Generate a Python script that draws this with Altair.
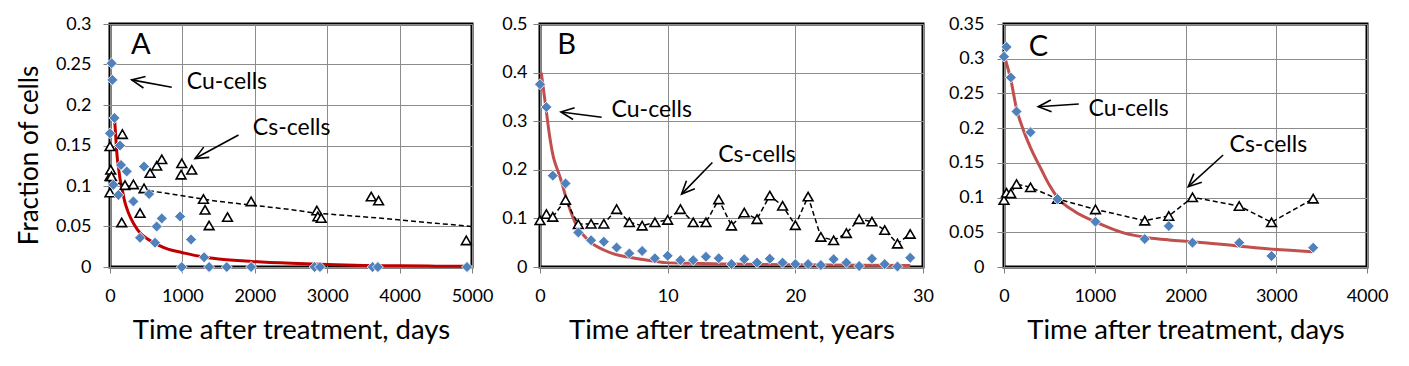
import math
import altair as alt
import pandas as pd

# ---------------- Panel A (days) ----------------
a_cu_t = [0, 23, 33, 47, 61, 116, 138, 152, 231, 323, 415, 470, 540, 622, 645, 715,
          968, 991, 1120, 1300, 1369, 1613, 1949, 2826, 2900, 3627, 3700, 4931]
a_cu_v = [0.165, 0.2515, 0.231, 0.1015, 0.184, 0.089, 0.150, 0.126, 0.118, 0.081, 0.036,
          0.124, 0.090, 0.030, 0.050, 0.060, 0.0624, 0.0, 0.034, 0.012, 0.0, 0.0, 0.0,
          0.0, 0.0, 0.0, 0.0, 0.0]
a_cs_t = [0, 0, 0, 10, 20, 162, 171, 207, 323, 415, 470, 553, 645, 715, 982, 991, 1129,
          1291, 1313, 1369, 1623, 1949, 2857, 2871, 2917, 3608, 3710, 4921]
a_cs_v = [0.149, 0.112, 0.092, 0.120, 0.112, 0.055, 0.164, 0.101, 0.102, 0.0666, 0.097,
          0.116, 0.125, 0.133, 0.114, 0.128, 0.120, 0.084, 0.0706, 0.0513, 0.0617, 0.081,
          0.0698, 0.0624, 0.0604, 0.087, 0.082, 0.0328]
a_fit_t = [61, 80, 100, 116, 140, 162, 200, 254, 330, 415, 530, 669, 800, 991, 1250, 1500,
           1959, 2500, 3000, 3500, 4000, 4500, 5000]
a_fit_v = [0.186, 0.160, 0.135, 0.124, 0.108, 0.099, 0.082, 0.067, 0.053, 0.042, 0.034,
           0.027, 0.022, 0.018, 0.013, 0.010, 0.0069, 0.0045, 0.003, 0.002, 0.0015, 0.001,
           0.0008]
a_trend_t = [0, 207, 553, 1000, 1268, 1500, 2000, 2512, 2834, 3500, 3987, 4500, 5000]
a_trend_v = [0.106, 0.101, 0.094, 0.088, 0.084, 0.081, 0.076, 0.0707, 0.0666, 0.062,
             0.0583, 0.054, 0.050]

# ---------------- Panel B (years) ----------------
b_t = [0, 0.5, 1, 2, 3, 4, 5, 6, 7, 8, 9, 10, 11, 12, 13, 14, 15, 16, 17, 18, 19, 20,
       21, 22, 23, 24, 25, 26, 27, 28, 29]
b_cu_v = [0.376, 0.329, 0.188, 0.172, 0.071, 0.055, 0.052, 0.040, 0.028, 0.033, 0.018,
          0.023, 0.014, 0.014, 0.021, 0.018, 0.006, 0.016, 0.009, 0.017, 0.009, 0.006,
          0.006, 0.004, 0.016, 0.009, 0.002, 0.017, 0.006, 0.001, 0.019]
b_cs_v = [0.096, 0.109, 0.103, 0.138, 0.088, 0.089, 0.089, 0.119, 0.092, 0.085, 0.092,
          0.097, 0.119, 0.092, 0.092, 0.139, 0.085, 0.112, 0.0985, 0.147, 0.126, 0.086,
          0.145, 0.062, 0.055, 0.0696, 0.0985, 0.0936, 0.076, 0.048, 0.068]
b_fit_t = [0.1, 0.45, 0.75, 1.05, 1.3, 1.57, 1.96, 2.48, 2.95, 3.5, 4, 5, 5.9, 7, 7.9, 9,
           9.9, 12, 15, 20, 25, 29]
b_fit_v = [0.40, 0.33, 0.27, 0.226, 0.205, 0.185, 0.150, 0.109, 0.081, 0.063, 0.050, 0.035,
           0.026, 0.020, 0.016, 0.012, 0.009, 0.0075, 0.006, 0.0045, 0.0035, 0.003]

# ---------------- Panel C (days) ----------------
c_t = [0, 28, 75, 138, 292, 590, 1008, 1551, 1816, 2077, 2592, 2948, 3407]
c_cu_v = [0.303, 0.317, 0.273, 0.224, 0.194, 0.098, 0.0653, 0.0403, 0.059, 0.035, 0.035,
          0.0158, 0.0278]
c_cs_v = [0.0965, 0.107, 0.106, 0.1195, 0.1148, 0.098, 0.083, 0.0667, 0.0735, 0.1004,
          0.0879, 0.0644, 0.0984]
c_fit_t = [0, 75, 138, 220, 292, 413, 500, 590, 780, 1008, 1336, 1551, 1816, 2077, 2592,
           2970, 3403]
c_fit_v = [0.305, 0.27, 0.228, 0.195, 0.172, 0.14, 0.118, 0.100, 0.080, 0.065, 0.0485,
           0.043, 0.039, 0.0365, 0.030, 0.0255, 0.022]

# annotations (data coordinates)
labels_a = {"letter": ("A", 424, 0.274),
            "cu": ("Cu-cells", 1060, 0.2285), "cs": ("Cs-cells", 1973, 0.172)}
arrows_a = [(853, 0.222, 300, 0.231), (1775, 0.163, 1175, 0.134)]
labels_b = {"letter": ("B", 2.09, 0.457),
            "cu": ("Cu-cells", 5.61, 0.324), "cs": ("Cs-cells", 13.96, 0.231)}
arrows_b = [(4.83, 0.308, 1.64, 0.319), (13.5, 0.215, 11.09, 0.150)]
labels_c = {"letter": ("C", 380, 0.317),
            "cu": ("Cu-cells", 931, 0.2276), "cs": ("Cs-cells", 2485, 0.1757)}
arrows_c = [(824, 0.2348, 377, 0.2309), (2415, 0.1613, 2030, 0.1157)]

FONT = "Lato"
BLUE = "#4F81BD"
HEIGHT = 243
VPATH = "M-1,-0.45L0,0L-1,0.45"


def panel(width, xdom, xticks, ydom, yticks, xtitle, ytitle, ylabpad,
          cu_t, cu_v, cs_t, cs_v, dash_t, dash_v, fit_t, fit_v, fit_color,
          labels, arrows):
    xs = alt.Scale(domain=xdom, nice=False, zero=False)
    ys = alt.Scale(domain=ydom, nice=False, zero=False)
    yaxis_kw = dict(values=yticks, format="~g", labelPadding=ylabpad, tickSize=7,
                    labelFlush=False)
    if ytitle:
        yaxis = alt.Axis(title=ytitle, titleX=-81, titleY=131, titleBaseline="middle",
                         titleAngle=270, titleFontSize=26, **yaxis_kw)
    else:
        yaxis = alt.Axis(title=None, **yaxis_kw)
    xaxis = alt.Axis(values=xticks, format="d", title=xtitle, tickSize=6,
                     labelPadding=28, labelBaseline="alphabetic", labelFlush=False,
                     titleY=71, titleBaseline="alphabetic", titleFontSize=27.5)

    def X(f):
        return alt.X(f, scale=xs, axis=xaxis)

    def Y(f):
        return alt.Y(f, scale=ys, axis=yaxis)

    fit_df = pd.DataFrame({"t": fit_t, "v": fit_v})
    fit = alt.Chart(fit_df).mark_line(color=fit_color, strokeWidth=3,
                                      interpolate="monotone").encode(
        x=X("t:Q"), y=Y("v:Q"))

    dash_df = pd.DataFrame({"t": dash_t, "v": dash_v})
    dash = alt.Chart(dash_df).mark_line(color="black", strokeWidth=1.5,
                                        strokeDash=[5, 3]).encode(x=X("t:Q"), y=Y("v:Q"))

    cs_df = pd.DataFrame({"t": cs_t, "v": cs_v})
    tri = alt.Chart(cs_df).mark_point(shape="triangle-up", filled=True, fill="white",
                                      stroke="black", strokeWidth=1.6, size=95,
                                      opacity=1).encode(x=X("t:Q"), y=Y("v:Q"))

    cu_df = pd.DataFrame({"t": cu_t, "v": cu_v})
    dia = alt.Chart(cu_df).mark_point(shape="diamond", filled=True, fill=BLUE,
                                      stroke="white", strokeWidth=0.8, size=120,
                                      opacity=1).encode(x=X("t:Q"), y=Y("v:Q"))

    txt_df = pd.DataFrame({"label": [labels["cu"][0], labels["cs"][0]],
                           "t": [labels["cu"][1], labels["cs"][1]],
                           "v": [labels["cu"][2], labels["cs"][2]]})
    txt = alt.Chart(txt_df).mark_text(align="left", baseline="middle", font=FONT,
                                      fontSize=23, color="black").encode(
        x=X("t:Q"), y=Y("v:Q"), text="label:N")

    let_df = pd.DataFrame({"label": [labels["letter"][0]], "t": [labels["letter"][1]],
                           "v": [labels["letter"][2]]})
    let = alt.Chart(let_df).mark_text(align="center", baseline="middle", font=FONT,
                                      fontSize=29, color="black").encode(
        x=X("t:Q"), y=Y("v:Q"), text="label:N")

    xspan = xdom[1] - xdom[0]
    yspan = ydom[1] - ydom[0]
    angs = []
    for (x1, y1, x2, y2) in arrows:
        dx = (x2 - x1) / xspan * width
        dy = -(y2 - y1) / yspan * HEIGHT
        angs.append(math.degrees(math.atan2(dy, dx)) % 360)
    arr_df = pd.DataFrame({"t": [a[0] for a in arrows], "v": [a[1] for a in arrows],
                           "t2": [a[2] for a in arrows], "v2": [a[3] for a in arrows],
                           "ang": angs})
    shaft = alt.Chart(arr_df).mark_rule(color="black", strokeWidth=1.6).encode(
        x=X("t:Q"), x2="t2:Q", y=Y("v:Q"), y2="v2:Q")
    head_df = pd.DataFrame({"t": [a[2] for a in arrows], "v": [a[3] for a in arrows],
                            "ang": angs})
    head = alt.Chart(head_df).mark_point(shape=VPATH, filled=False, color="black",
                                         strokeWidth=1.6, size=676, opacity=1).encode(
        x=X("t:Q"), y=Y("v:Q"), angle=alt.Angle("ang:Q", scale=None))

    return alt.layer(fit, dash, tri, dia, shaft, head, txt, let).properties(
        width=width, height=HEIGHT)


pA = panel(362, [0, 5000], [0, 1000, 2000, 3000, 4000, 5000],
           [0, 0.3], [0, 0.05, 0.1, 0.15, 0.2, 0.25, 0.3],
           "Time after treatment, days", "Fraction of cells", 12,
           a_cu_t, a_cu_v, a_cs_t, a_cs_v, a_trend_t, a_trend_v,
           a_fit_t, a_fit_v, "#C00000", labels_a, arrows_a)
pB = panel(383, [0, 30], [0, 10, 20, 30],
           [0, 0.5], [0, 0.1, 0.2, 0.3, 0.4, 0.5],
           "Time after treatment, years", None, 6,
           b_t, b_cu_v, b_t, b_cs_v, b_t, b_cs_v,
           b_fit_t, b_fit_v, "#C0504D", labels_b, arrows_b)
pC = panel(363, [0, 4000], [0, 1000, 2000, 3000, 4000],
           [0, 0.35], [0, 0.05, 0.1, 0.15, 0.2, 0.25, 0.3, 0.35],
           "Time after treatment, days", None, 13,
           c_t, c_cu_v, c_t, c_cs_v, c_t, c_cs_v,
           c_fit_t, c_fit_v, "#C0504D", labels_c, arrows_c)


def spacer(w):
    return alt.Chart(pd.DataFrame({"x": [0], "y": [0]})).mark_point(opacity=0).encode(
        x=alt.X("x:Q", axis=None), y=alt.Y("y:Q", axis=None)
    ).properties(width=w, height=HEIGHT, view=alt.ViewBackground(stroke="transparent"))


chart = alt.hconcat(pA, spacer(48), pB, spacer(61), pC, spacing=10, bounds="flush").properties(
    padding={"left": 6, "top": 5, "right": 5, "bottom": 5}
).configure(font=FONT).configure_view(
    stroke="black", strokeWidth=3
).configure_axis(
    labelFont=FONT, labelFontSize=18, labelColor="black",
    titleFont=FONT, titleFontWeight="normal", titleColor="black",
    tickColor="#7f7f7f", gridColor="#8c8c8c", gridWidth=1, domainColor="#8c8c8c",
    domainWidth=1, labelOverlap=False
)

chart.save("out.html", embed_options={"renderer": "svg", "actions": False})
